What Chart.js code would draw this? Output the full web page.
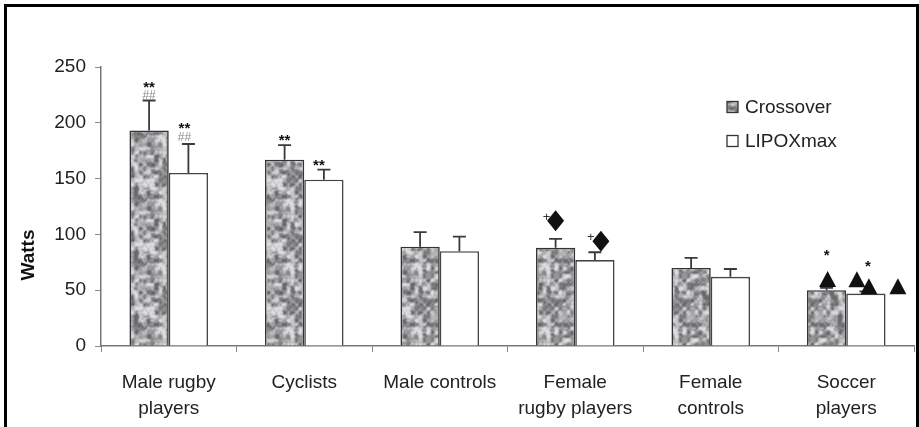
<!DOCTYPE html>
<html><head><meta charset="utf-8">
<script src="https://cdn.jsdelivr.net/npm/chart.js@4"></script>
<style>html,body{margin:0;padding:0;background:#fff}#wrap{width:919px;height:427px;position:relative}</style>
</head><body><div id="wrap"><canvas id="c" width="919" height="427"></canvas></div>
<script>
// ---- data ----
const categories = [['Male rugby', 'players'], 'Cyclists', 'Male controls', ['Female', 'rugby players'], ['Female', 'controls'], ['Soccer', 'players']];
const seriesNames = ['Crossover', 'LIPOXmax'];
const crossover = [193, 167, 89, 88, 70, 50];
const lipoxmax = [155, 149, 85, 77, 62, 47];
const crossoverErrTop = [220, 180, 102, 96, 79, 52];
const lipoxmaxErrTop = [181, 158, 98, 84, 69, 49];
const yTickValues = [0, 50, 100, 150, 200, 250];
const yTitle = 'Watts';

// significance marks: category, series, symbol
const marks = [
  {cat: 0, ds: 0, sym: '**'}, {cat: 0, ds: 0, sym: '##'},
  {cat: 0, ds: 1, sym: '**'}, {cat: 0, ds: 1, sym: '##'},
  {cat: 1, ds: 0, sym: '**'}, {cat: 1, ds: 1, sym: '**'},
  {cat: 3, ds: 0, sym: '+'}, {cat: 3, ds: 0, sym: 'diamond'},
  {cat: 3, ds: 1, sym: '+'}, {cat: 3, ds: 1, sym: 'diamond'},
  {cat: 5, ds: 0, sym: '*'}, {cat: 5, ds: 0, sym: 'triangle'},
  {cat: 5, ds: 1, sym: '*'}, {cat: 5, ds: 1, sym: 'triangle'}, {cat: 5, ds: 1, sym: 'triangle'}, {cat: 5, ds: 1, sym: 'triangle'}
];
// pixel offsets from the top of each error bar (style only)
const markOffsets = [
  [0, -16], [0, -5],
  [-4, -18], [-4, -6],
  [0, -7], [-5, -7],
  [-9, -21], [0, -18],
  [-4, -15], [6, -11],
  [0, -35], [1, -9],
  [2, -27], [-9, -12], [3, -5], [32, -5]
];

// ---- texture for Crossover bars ----
function makePattern() {
  const s = 64, cell = 4, n = s / cell;
  const c = document.createElement('canvas'); c.width = c.height = s;
  const g = c.getContext('2d');
  const img = g.createImageData(s, s);
  const h = (x, y, k) => { const v = Math.sin(x * 127.1 + y * 311.7 + k * 74.7) * 43758.5453; return v - Math.floor(v); };
  const noise = (px, py, cs, nn, k) => {
    const fx = px / cs, fy = py / cs;
    const x0 = Math.floor(fx), y0 = Math.floor(fy);
    const tx = fx - x0, ty = fy - y0;
    const sx = tx * tx * (3 - 2 * tx), sy = ty * ty * (3 - 2 * ty);
    const a = h(x0 % nn, y0 % nn, k), b = h((x0 + 1) % nn, y0 % nn, k);
    const cc = h(x0 % nn, (y0 + 1) % nn, k), d = h((x0 + 1) % nn, (y0 + 1) % nn, k);
    return (a * (1 - sx) + b * sx) * (1 - sy) + (cc * (1 - sx) + d * sx) * sy;
  };
  for (let y = 0; y < s; y++) for (let x = 0; x < s; x++) {
    let v = 0.75 * noise(x, y, cell, n, 1) + 0.25 * noise(x, y, 2, 32, 2);
    v = Math.max(0, Math.min(1, (v - 0.5) * 1.7 + 0.5));
    const gray = Math.round(105 + v * 115);
    const i = (y * s + x) * 4;
    img.data[i] = gray; img.data[i + 1] = gray; img.data[i + 2] = gray + 3; img.data[i + 3] = 255;
  }
  g.putImageData(img, 0, 0);
  return g.createPattern(c, 'repeat');
}
const ctx = document.getElementById('c').getContext('2d');
const texture = makePattern();

const FONT = 'Liberation Sans, Arial, sans-serif';
const errTops = [crossoverErrTop, lipoxmaxErrTop];

const extrasPlugin = {
  id: 'extras',
  afterDatasetsDraw(chart) {
    const c = chart.ctx, yS = chart.scales.y;
    c.save();
    // error bars (upper whiskers)
    errTops.forEach((arr, d) => {
      const meta = chart.getDatasetMeta(d);
      meta.data.forEach((el, j) => {
        const yE = yS.getPixelForValue(arr[j]);
        c.strokeStyle = '#3a3a3a'; c.lineWidth = 1.8;
        c.beginPath(); c.moveTo(el.x, el.y); c.lineTo(el.x, yE);
        c.moveTo(el.x - 6.5, yE); c.lineTo(el.x + 6.5, yE); c.stroke();
      });
    });
    // marks
    marks.forEach((m, k) => {
      const el = chart.getDatasetMeta(m.ds).data[m.cat];
      const x = el.x + markOffsets[k][0];
      const y = yS.getPixelForValue(errTops[m.ds][m.cat]) + markOffsets[k][1];
      c.fillStyle = '#111';
      c.textAlign = 'center'; c.textBaseline = 'middle';
      if (m.sym === 'triangle') {
        c.beginPath(); c.moveTo(x, y - 8); c.lineTo(x - 8.5, y + 8); c.lineTo(x + 8.5, y + 8); c.closePath(); c.fill();
      } else if (m.sym === 'diamond') {
        c.beginPath(); c.moveTo(x, y - 10.5); c.lineTo(x + 8.5, y); c.lineTo(x, y + 10.5); c.lineTo(x - 8.5, y); c.closePath(); c.fill();
      } else if (m.sym === '##') {
        c.fillStyle = '#8a8a8a'; c.font = '12px ' + FONT; c.fillText('##', x, y);
      } else if (m.sym === '+') {
        c.fillStyle = '#333'; c.font = '13px ' + FONT; c.fillText('+', x, y);
      } else {
        c.font = 'bold 15px ' + FONT; c.fillText(m.sym, x, y + 3);
      }
    });
    c.restore();
  },
  afterDraw(chart) {
    const c = chart.ctx;
    c.save();
    // legend
    chart.data.datasets.forEach((ds, i) => {
      const cy = 107 + i * 34;
      c.fillStyle = ds.backgroundColor; c.fillRect(727, cy - 5.5, 11, 11);
      c.strokeStyle = '#333'; c.lineWidth = 1.3; c.strokeRect(727, cy - 5.5, 11, 11);
      c.fillStyle = '#222'; c.font = '19px ' + FONT; c.textAlign = 'left'; c.textBaseline = 'middle';
      c.fillText(ds.label, 745, cy + 1);
    });
    // y title
    c.translate(29, 255); c.rotate(-Math.PI / 2);
    c.font = 'bold 19px ' + FONT; c.fillStyle = '#111'; c.textAlign = 'center'; c.textBaseline = 'middle';
    c.fillText(yTitle, 0, 0);
    c.restore();
    // frame
    c.save(); c.fillStyle = '#000';
    c.fillRect(4, 4, 3, 423); c.fillRect(4, 4, 914, 3); c.fillRect(916, 4, 3, 423);
    c.restore();
  }
};

new Chart(ctx, {
  type: 'bar',
  data: {
    labels: categories,
    datasets: [
      {label: seriesNames[0], data: crossover, backgroundColor: texture, borderColor: '#333', borderWidth: 1.6},
      {label: seriesNames[1], data: lipoxmax, backgroundColor: '#ffffff', borderColor: '#444', borderWidth: 1.6}
    ]
  },
  options: {
    responsive: false, animation: false, devicePixelRatio: 1,
    layout: {padding: {left: 0, top: 67, right: 5, bottom: 0}},
    datasets: {bar: {categoryPercentage: 0.58, barPercentage: 1.0}},
    plugins: {legend: {display: false}, tooltip: {enabled: false}},
    scales: {
      x: {
        grid: {display: true, drawOnChartArea: false, offset: true, tickLength: 6, color: '#888', lineWidth: 1},
        border: {color: '#777', width: 1.5},
        ticks: {font: {size: 19, family: FONT, lineHeight: 1.4}, color: '#222', padding: 17, maxRotation: 0, autoSkip: false},
        afterFit: s => { s.height = 81; }
      },
      y: {
        min: 0, max: 250,
        afterBuildTicks: s => { s.ticks = yTickValues.map(v => ({value: v})); },
        grid: {display: true, drawOnChartArea: false, tickLength: 6, color: '#888'},
        border: {color: '#777', width: 1.5},
        ticks: {font: {size: 19, family: FONT}, color: '#222', padding: 9},
        afterFit: s => { s.width = 101; }
      }
    }
  },
  plugins: [extrasPlugin]
});
</script></body></html>
